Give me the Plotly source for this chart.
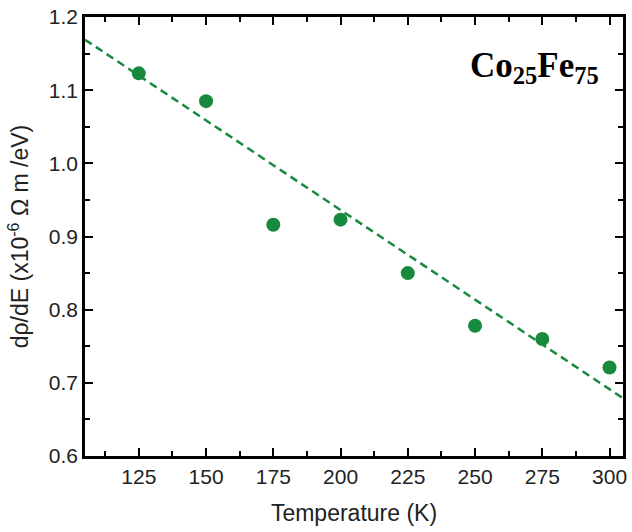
import plotly.graph_objects as go

# Measured data
temperature_K = [125, 150, 175, 200, 225, 250, 275, 300]
drho_dE = [1.123, 1.085, 0.916, 0.923, 0.850, 0.778, 0.760, 0.721]

# Linear trend line endpoints
trend_T = [105, 305]
trend_vals = [1.169, 0.679]

x_ticks = [125, 150, 175, 200, 225, 250, 275, 300]
y_ticks = [0.6, 0.7, 0.8, 0.9, 1.0, 1.1, 1.2]

green = "#178a3e"
sans = "Liberation Sans, Arial"

fig = go.Figure()
fig.add_trace(go.Scatter(
    x=trend_T, y=trend_vals, mode="lines",
    line=dict(color=green, width=2.5, dash="8px,5px"),
    hoverinfo="skip", showlegend=False,
))
fig.add_trace(go.Scatter(
    x=temperature_K, y=drho_dE, mode="markers",
    marker=dict(color=green, size=14),
    showlegend=False,
))

axis_common = dict(
    showline=True, linecolor="black", linewidth=2.5, mirror="ticks",
    ticks="inside", tickcolor="black", tickwidth=2, ticklen=8,
    showgrid=False, zeroline=False,
    tickfont=dict(family=sans, size=21, color="#222"),
)

fig.update_xaxes(
    range=[105, 305], tickvals=x_ticks,
    minor=dict(ticks="inside", ticklen=5, tickwidth=2, tickcolor="black", dtick=12.5, tick0=0),
    title=dict(text="Temperature (K)", font=dict(family=sans, size=23, color="#222"), standoff=18),
    **axis_common,
)
fig.update_yaxes(
    range=[0.6, 1.2], tickvals=y_ticks, tickformat=".1f",
    minor=dict(ticks="inside", ticklen=5, tickwidth=2, tickcolor="black", dtick=0.05, tick0=0),
    title=dict(text="dρ/dE (x10<sup>-6</sup> Ω m /eV)", font=dict(family=sans, size=23, color="#222"), standoff=14),
    **axis_common,
)

fig.add_annotation(
    x=0.96, y=0.885, xref="paper", yref="paper", xanchor="right", yanchor="middle",
    text="<b>Co<sub>25</sub>Fe<sub>75</sub></b>", showarrow=False,
    font=dict(family="Liberation Serif, Times New Roman", size=35, color="black"),
)

fig.update_layout(
    width=632, height=532,
    margin=dict(l=85, r=5, t=14, b=76),
    paper_bgcolor="white", plot_bgcolor="white",
)

fig.write_html("out.html")
